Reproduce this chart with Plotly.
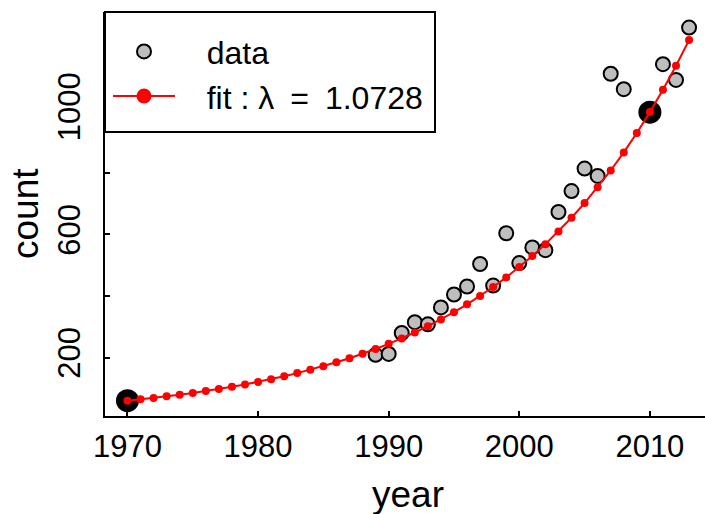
import plotly.graph_objects as go

# data points (gray)
data_years = [1989, 1990, 1991, 1992, 1993, 1994, 1995, 1996, 1997, 1998, 1999,
              2000, 2001, 2002, 2003, 2004, 2005, 2006, 2007, 2008, 2011, 2012, 2013]
data_counts = [209, 212, 280, 315, 308, 363, 405, 431, 504, 434, 604,
               507, 558, 549, 673, 741, 814, 790, 1122, 1072, 1153, 1102, 1272]

# anchor points (black)
anchor_years = [1970, 2010]
anchor_counts = [60, 997]

# fitted curve (red), one value per year 1970..2013
fit_years = list(range(1970, 2014))
fit_counts = [60.0, 64.4, 69.1, 74.1, 79.5, 85.3, 91.5, 98.1, 105.3, 112.9,
              121.1, 130.0, 139.4, 149.6, 160.5, 172.1, 184.7, 198.1, 212.5, 228.0,
              244.6, 262.4, 281.5, 302.0, 324.0, 347.6, 372.9, 400.0, 429.2, 460.4,
              493.9, 529.9, 568.5, 609.8, 654.2, 701.9, 753.0, 807.8, 866.6, 929.7,
              997.4, 1070.0, 1147.9, 1231.4]

x_ticks = [1970, 1980, 1990, 2000, 2010]
y_ticks = [200, 400, 600, 800, 1000]
y_ticktext = ["200", "", "600", "", "1000"]

FONT = "Liberation Sans, Arial, Helvetica, sans-serif"
NB = "\u00a0"
EN = "\u2002"

fig = go.Figure()
fig.add_trace(go.Scatter(
    x=data_years, y=data_counts, mode="markers", name=NB * 3 + "data",
    marker=dict(size=14, color="#BEBEBE", line=dict(color="black", width=2)),
))
fig.add_trace(go.Scatter(
    x=anchor_years, y=anchor_counts, mode="markers", showlegend=False,
    marker=dict(size=23, color="black"),
))
fig.add_trace(go.Scatter(
    x=fit_years, y=fit_counts, mode="lines+markers", showlegend=False,
    line=dict(color="red", width=2),
    marker=dict(size=8, color="red"),
))
# legend proxy for the fit
fig.add_trace(go.Scatter(
    x=[None], y=[None], mode="lines+markers",
    name=NB * 3 + "fit : λ" + EN + "=" + EN + "1.0728",
    line=dict(color="red", width=2),
    marker=dict(size=15, color="red"),
))

fig.update_layout(
    width=705, height=514,
    margin=dict(l=105, r=0, t=12, b=98),
    paper_bgcolor="white", plot_bgcolor="white",
    font=dict(family=FONT, size=31, color="black"),
    showlegend=True,
    legend=dict(
        x=0.005, y=0.97, xanchor="left", yanchor="top",
        bgcolor="rgba(0,0,0,0)", borderwidth=0,
        font=dict(size=32), itemwidth=62, tracegroupgap=0,
    ),
    xaxis=dict(
        range=[1968.28, 2014.22], tickvals=x_ticks,
        showline=True, linecolor="black", linewidth=2,
        ticks="inside", ticklen=5, tickwidth=1.5, tickcolor="black",
        showgrid=False, zeroline=False, ticklabelstandoff=2,
        tickfont=dict(size=31),
    ),
    yaxis=dict(
        range=[10.3, 1322.6], tickvals=y_ticks, ticktext=y_ticktext,
        showline=True, linecolor="black", linewidth=2,
        ticks="inside", ticklen=5, tickwidth=1.5, tickcolor="black",
        showgrid=False, zeroline=False, tickangle=-90, ticklabelstandoff=11,
        tickfont=dict(size=31),
    ),
    shapes=[dict(
        type="rect", xref="paper", yref="paper",
        x0=0, x1=(435 - 105) / 600, y0=(416 - 132) / 404, y1=1,
        line=dict(color="black", width=2), fillcolor="white", layer="above",
    )],
    annotations=[
        dict(text="year", xref="paper", yref="paper", x=(408 - 105) / 600,
             y=(416 - 494) / 404, xanchor="center", yanchor="middle",
             showarrow=False, font=dict(size=37)),
        dict(text="count", xref="paper", yref="paper", x=(25 - 105) / 600,
             y=0.5, xanchor="center", yanchor="middle", textangle=-90,
             showarrow=False, font=dict(size=37)),
    ],
)

fig.write_html(
    "out.html",
    config={"displayModeBar": False},
    post_script="document.body.style.margin='0';document.body.style.overflow='hidden';",
)
